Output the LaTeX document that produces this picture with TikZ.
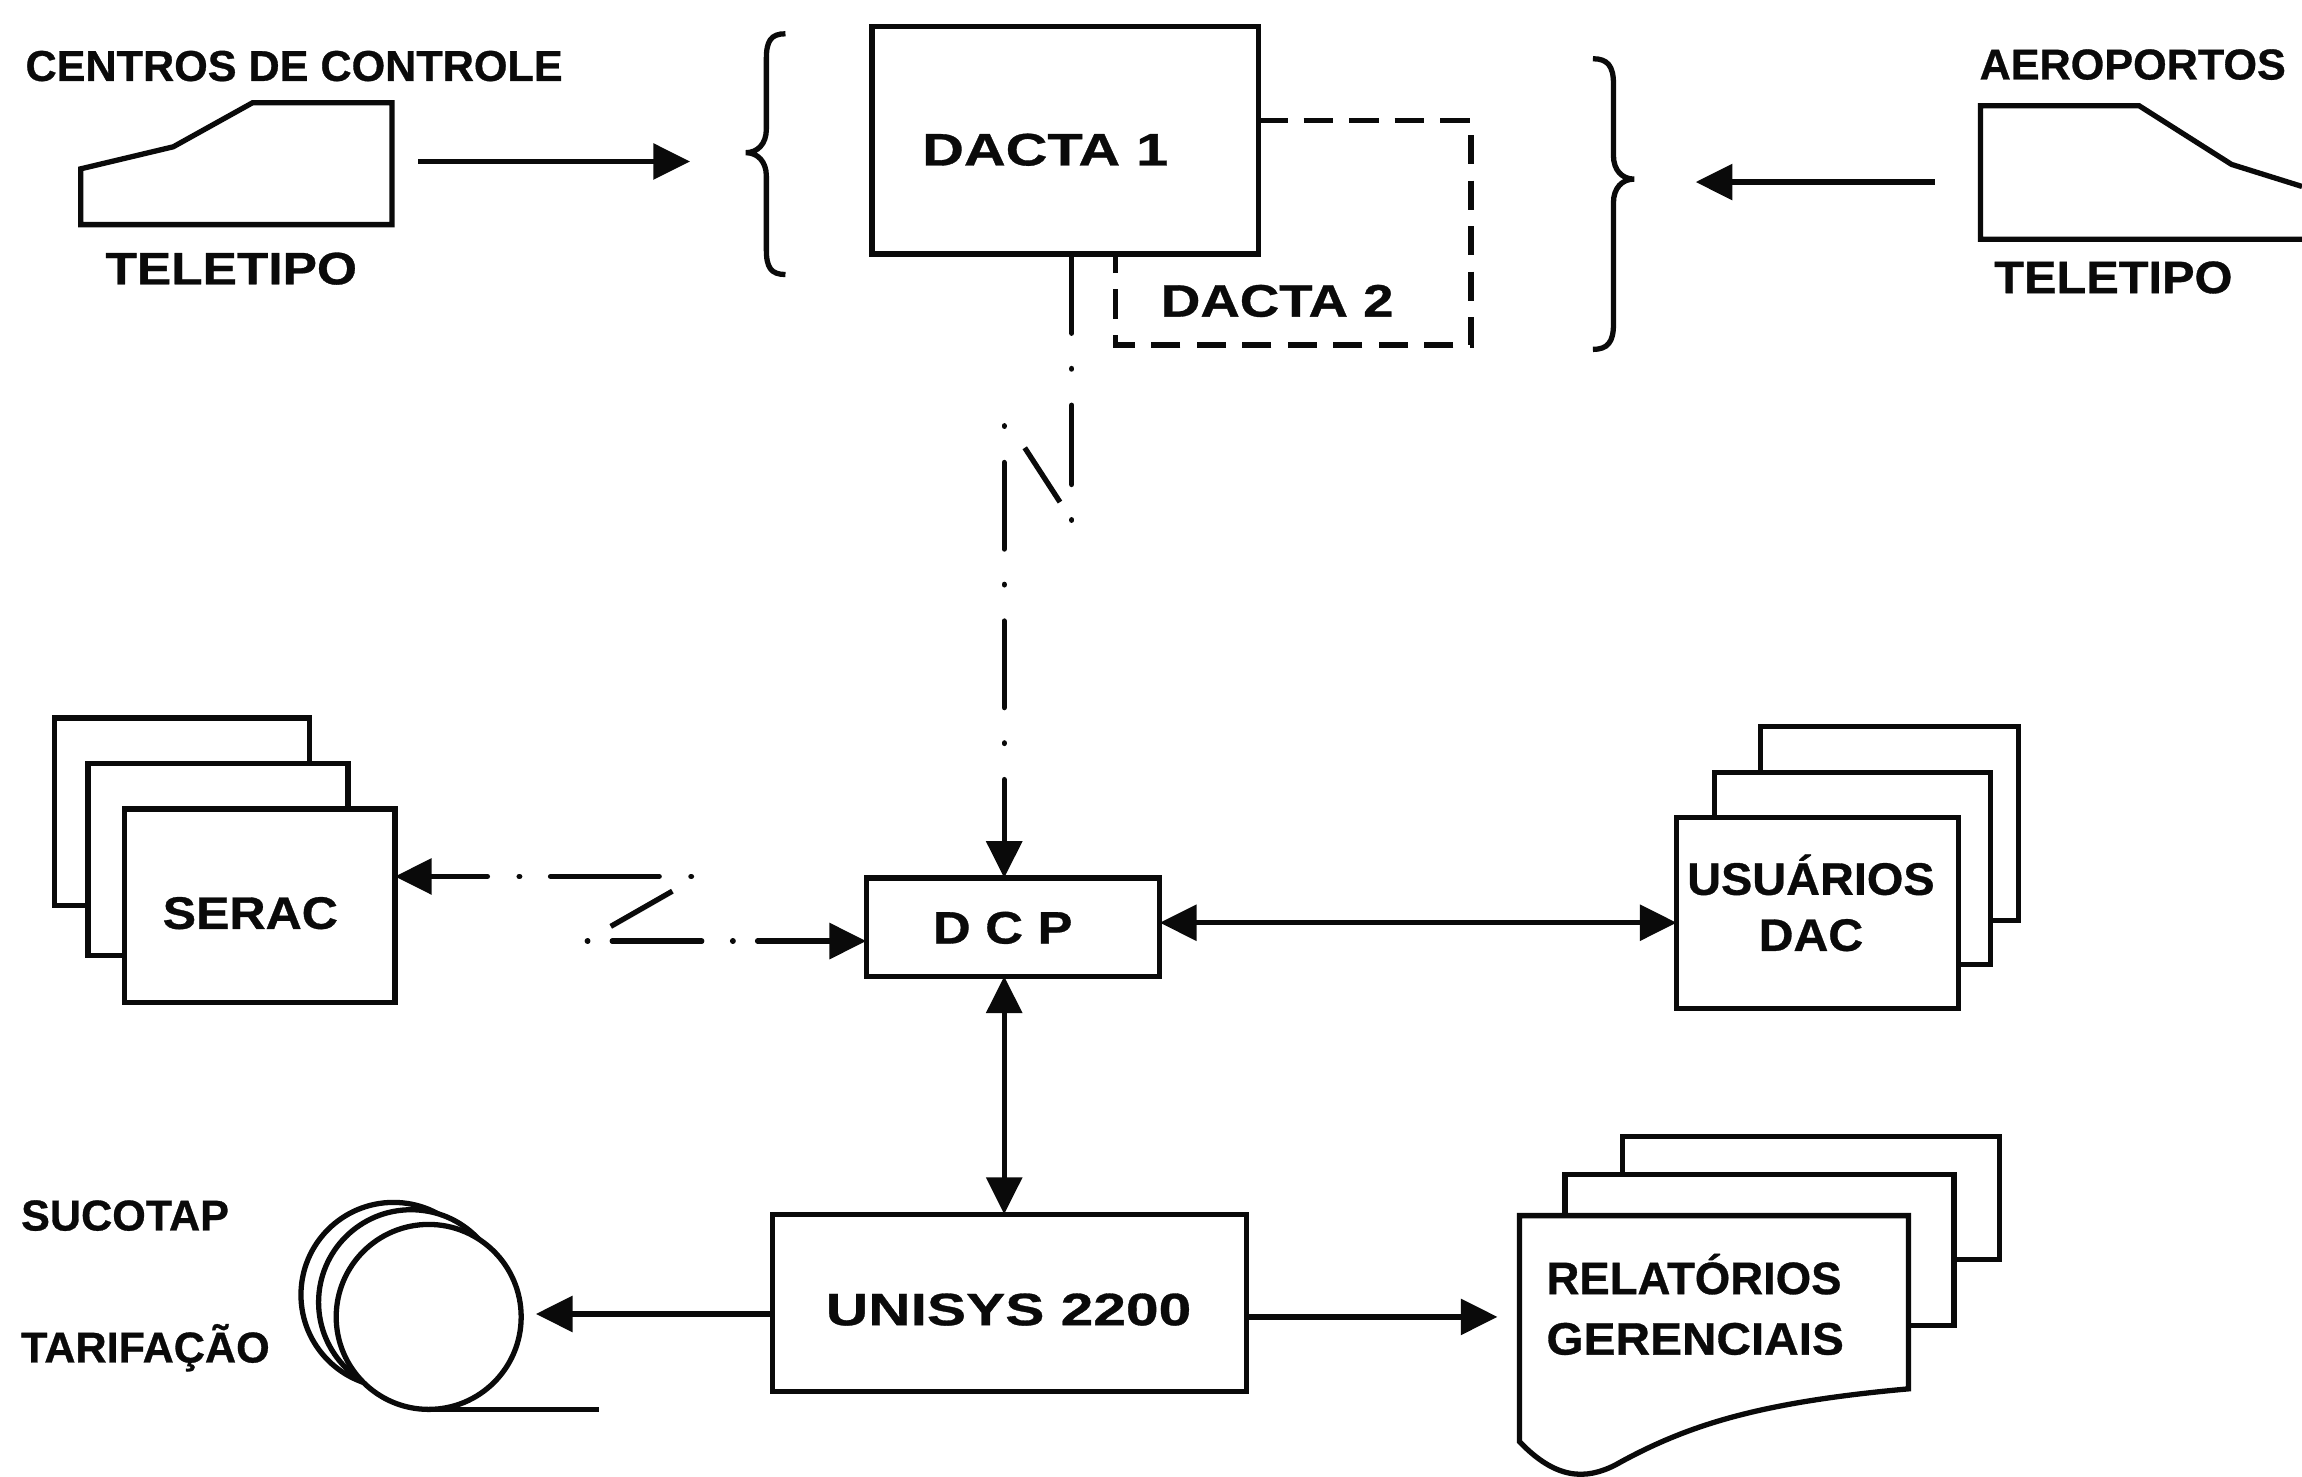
\documentclass[tikz,border=0pt]{standalone}
\usepackage{xcolor}
\usepackage{fontspec}
\setmainfont[BoldFeatures={FakeBold=0.7}]{Liberation Sans}
\definecolor{cInk}{HTML}{0A0A0A}
\usetikzlibrary{positioning,arrows.meta}
\newcommand{\ltr}[2]{{\addfontfeature{FakeStretch=#1}#2}}
\tikzset{
  node-box/.style={draw=cInk,line width=1.8pt,fill=white,inner sep=0pt,outer sep=0pt},
  node-page/.style={node-box,anchor=north west},
  node-reel/.style={node-box,circle,minimum size=63pt},
  lbl/.style={font=\fontsize{15.5}{18.6}\selectfont\bfseries,text=cInk,inner sep=0pt,align=left},
  lbl-name/.style={font=\fontsize{14.7}{17.6}\selectfont\bfseries,text=cInk,inner sep=0pt},
  line/.style={draw=cInk,line width=1.8pt},
  arrow/.style={line,-{Triangle[length=12.5pt,width=12pt]}},
  arrow-both/.style={line,{Triangle[length=12.5pt,width=12pt]}-{Triangle[length=12.5pt,width=12pt]}},
  link-a/.style={line cap=round,dash pattern=on 27pt off 12pt on .2pt off 12.3pt},
  link-b/.style={line cap=round,dash pattern=on .2pt off 12.3pt on 29.5pt off 12pt},
  link-c/.style={line cap=round,dash pattern=on .2pt off 10.8pt on 37pt off 10.5pt},
  link-d/.style={line cap=round,dash pattern=on .2pt off 8.3pt on 30.5pt off 10.5pt},
  dashbox/.style={line,dash pattern=on 10pt off 5.5pt},
}
\begin{document}
\begin{tikzpicture}[x=.5pt,y=-.5pt,node distance=81pt]
  \useasboundingbox (0,0) rectangle (1568,1006);
  \node[node-box,minimum width=100pt,minimum height=33.5pt] (dcp) at (690,631.5) {};
  \node[node-box,minimum width=161.5pt,minimum height=60.5pt,below=81pt of dcp,xshift=-1.25pt] (unisys) {};
  \node[node-box,minimum width=131.5pt,minimum height=77.5pt,above=212.5pt of dcp,xshift=17.75pt] (dacta1) {};
  \node[lbl] (dcplbl) at (683,632) {\ltr{1.15}{D C P}};
  \node[lbl] (unisyslbl) at (687,892) {\ltr{1.29}{UNISYS 2200}};
  \node[lbl] (dacta1lbl) at (712,102) {\ltr{1.27}{DACTA 1}};
  \node[lbl] (dacta2lbl) at (870,205) {\ltr{1.2}{DACTA 2}};

  % teletipos
  \draw[line] (55,153) -- (55,115) -- (118,100) -- (172,70) -- (267,70) -- (267,153) -- cycle;
  \draw[line] (1568,127) -- (1520,112) -- (1457,72) -- (1349,72) -- (1349,163) -- (1568,163);
  \node[lbl-name,anchor=west] (centros) at (17,45) {CENTROS DE CONTROLE};
  \node[lbl-name,anchor=west] (aero) at (1348,44) {AEROPORTOS};
  \node[lbl] (tele1) at (157.5,183) {\ltr{1.13}{TELETIPO}};
  \node[lbl] (tele2) at (1439.5,189) {\ltr{1.07}{TELETIPO}};
  \coordinate (tele1out) at (285,110);
  \coordinate (dactaL) at (470,110);
  \coordinate (tele2out) at (1318,124);
  \coordinate (dactaR) at (1155,124);
  \draw[arrow] (tele1out) -- (dactaL);
  \draw[arrow] (tele2out) -- (dactaR);

  % chaves
  \draw[line] (535,23) .. controls (525,23) and (522,28) .. (522,40) -- (522,88)
    .. controls (522,98) and (516,104) .. (508,104) .. controls (516,104) and (522,110) .. (522,120)
    -- (522,170) .. controls (522,182) and (525,187) .. (535,187);
  \draw[line] (1085,40) .. controls (1095,40) and (1099,45) .. (1099,57) -- (1099,106)
    .. controls (1099,116) and (1105,122) .. (1113,122) .. controls (1105,122) and (1099,128) .. (1099,138)
    -- (1099,221) .. controls (1099,233) and (1095,238) .. (1085,238);

  % dacta 2
  \coordinate (d2a) at (dacta1.east |- 0,82);
  \coordinate (d2b) at (760,235);
  \draw[dashbox] (d2a) -- (1002,82) -- (1002,235) -- (d2b) -- (dacta1.south -| d2b);

  % enlace dacta - dcp
  \coordinate (brkA) at (730,355);
  \coordinate (brkB) at (684,290);
  \draw[line,link-a] (dacta1.south -| brkA) -- (brkA);
  \draw[arrow,link-b] (brkB) -- (dcp.north -| brkB);
  \draw[line] (698,305) -- (722,342);

  % serac
  \node[node-page,minimum width=87pt,minimum height=64pt] (serac1) at (37,489) {};
  \node[node-page,minimum width=88.5pt,minimum height=65.5pt] (serac2) at (60,520) {};
  \node[node-page,minimum width=92pt,minimum height=66pt] (serac3) at (85,551) {};
  \node[lbl] (seraclbl) at (170.5,622) {\ltr{1.1}{SERAC}};
  \coordinate (brkC) at (471,597);
  \coordinate (brkD) at (400,641);
  \draw[arrow,link-c] (brkC) -- (brkC -| serac3.east);
  \draw[arrow,link-d] (brkD) -- (brkD -| dcp.west);
  \draw[line] (416,631) -- (458,607);

  % usuarios
  \node[node-page,minimum width=88pt,minimum height=66pt] (usr1) at (1199,495) {};
  \node[node-page,minimum width=94pt,minimum height=65.5pt] (usr2) at (1168,526) {};
  \node[node-page,minimum width=96pt,minimum height=65pt] (usr3) at (1142,557) {};
  \node[lbl,align=center] (usrlbl) at (1233.5,615) {\ltr{1.03}{USUÁRIOS}\\[.5pt]\ltr{1.06}{DAC}};
  \draw[arrow-both] ([yshift=1.5pt]dcp.east) -- ([yshift=1.5pt]dcp.east -| usr3.west);
  \draw[arrow-both] (dcp.south -| brkB) -- (unisys.north -| brkB);

  % fita
  \node[node-reel] (reel1) at (268,882) {};
  \node[node-reel] (reel2) at (280,887) {};
  \node[node-reel] (reel3) at (292,897) {};
  \coordinate (tail) at (408,960);
  \draw[line] (reel3.south) -- (tail);
  \node[lbl-name,anchor=west] (sucotap) at (14,828) {SUCOTAP};
  \node[lbl-name,anchor=west] (tarif) at (14,918) {TARIFAÇÃO};
  \coordinate (reelin) at (365,895);
  \draw[arrow] (unisys.west |- reelin) -- (reelin);

  % relatorios
  \node[node-page,minimum width=128.5pt,minimum height=42pt] (rel1) at (1105,774) {};
  \node[node-page,minimum width=132.5pt,minimum height=51.5pt] (rel2) at (1066,800) {};
  \draw[line,fill=white] (1035,828) -- (1300,828) -- (1300,946) .. controls (1200,955) and (1150,970) .. (1100,998)
    .. controls (1080,1008) and (1060,1008) .. (1035,982) -- cycle;
  \node[lbl,anchor=west] (rellbl) at (1053,888.5) {RELATÓRIOS\\[2pt]\ltr{1.05}{GERENCIAIS}};
  \coordinate (relin) at (1020,897);
  \draw[arrow] (unisys.east |- relin) -- (relin);
\end{tikzpicture}
\end{document}
